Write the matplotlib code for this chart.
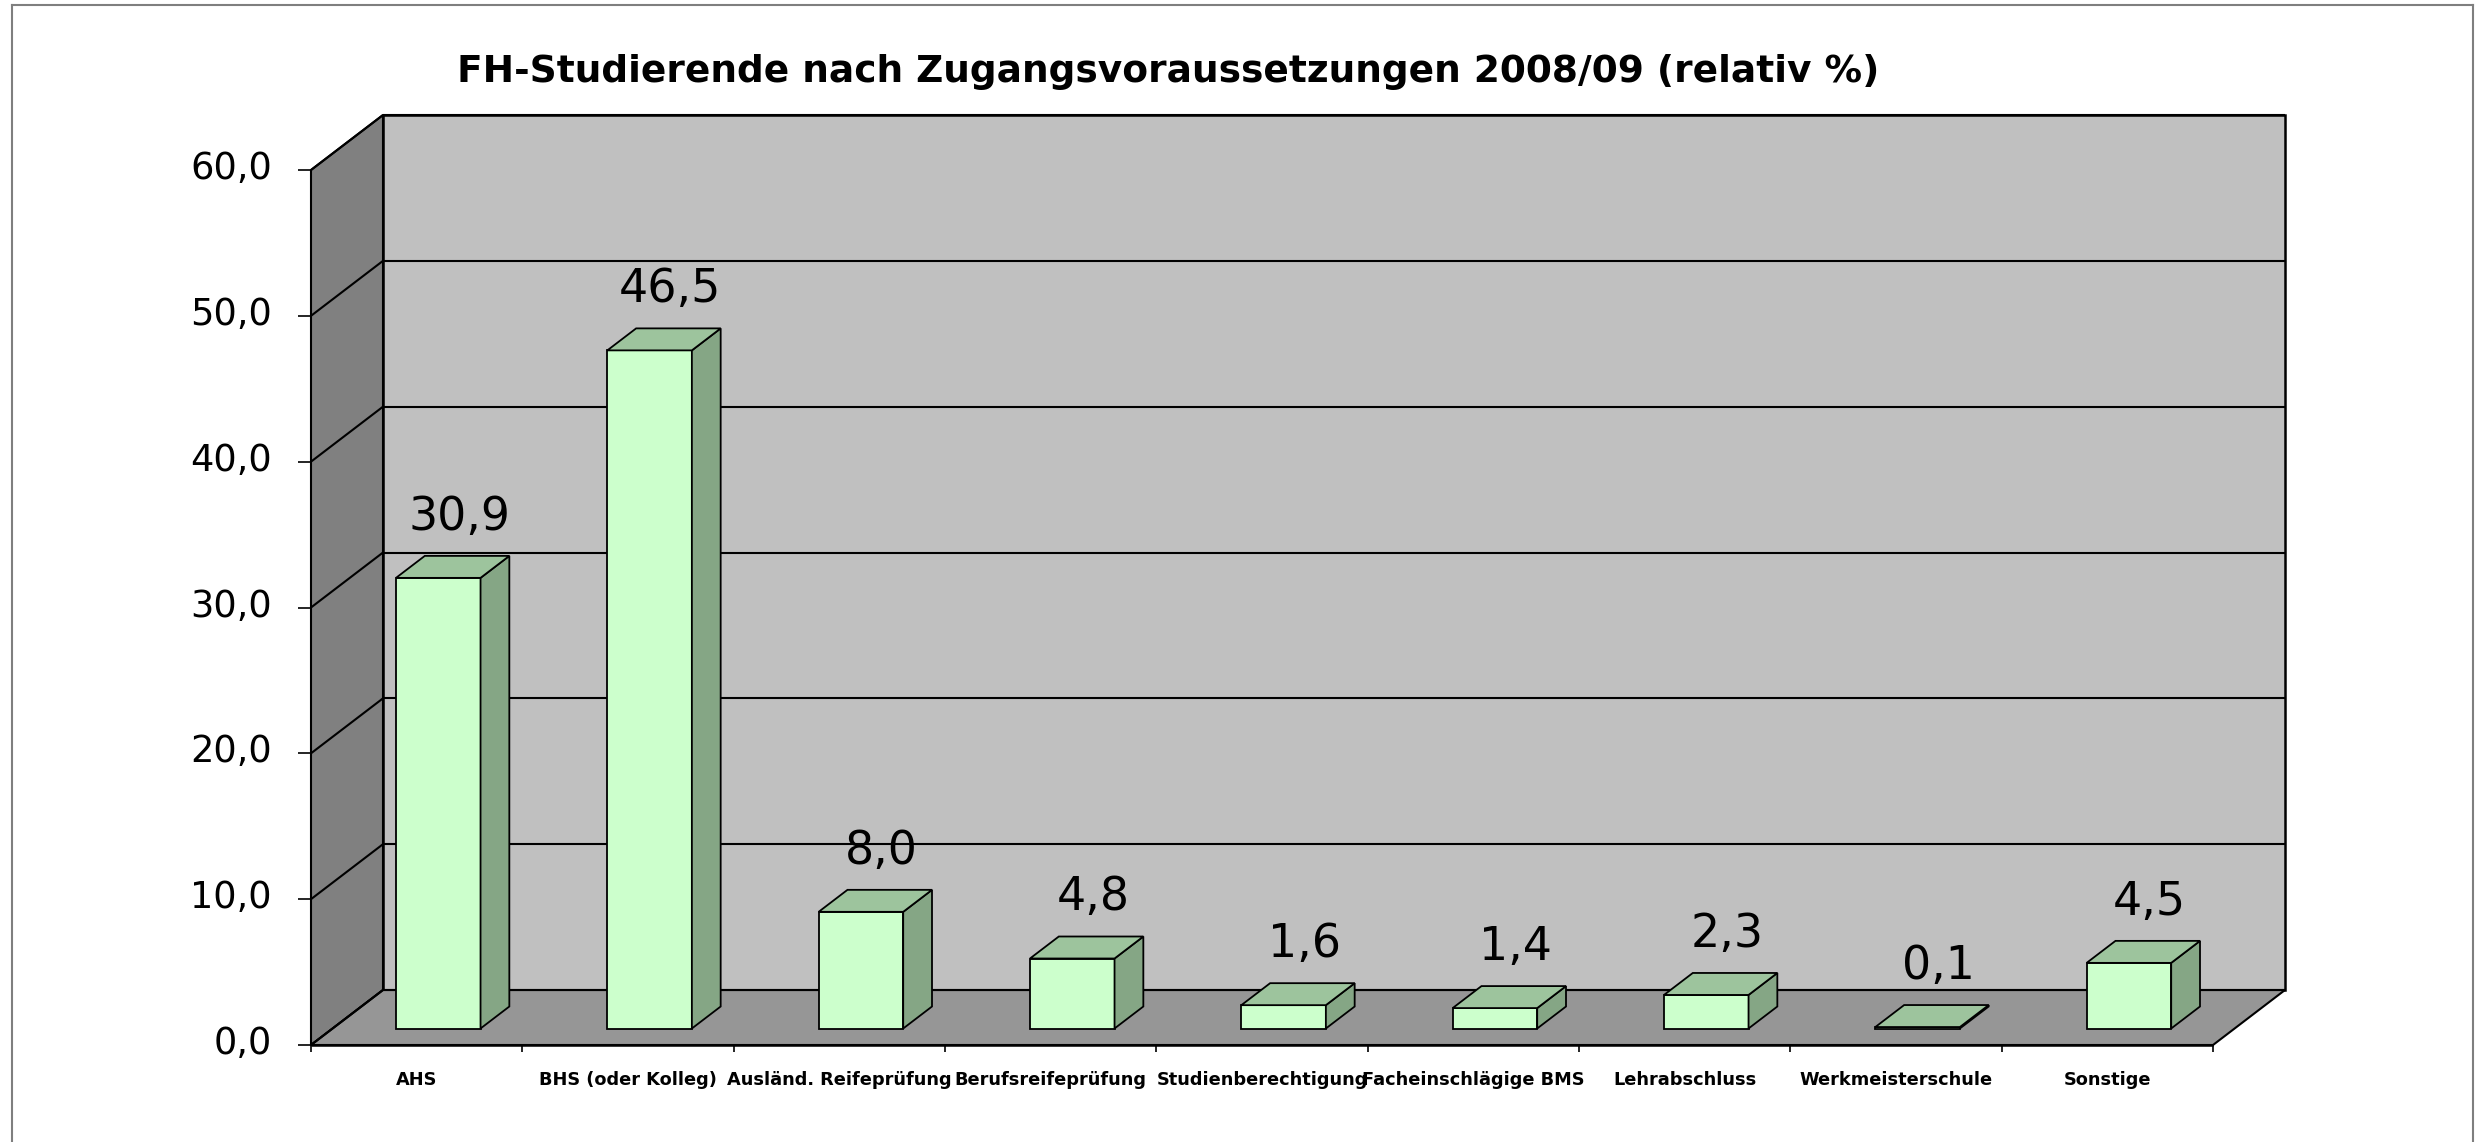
import matplotlib
matplotlib.use("Agg")
import matplotlib.pyplot as plt
from matplotlib.patches import Polygon
from matplotlib.lines import Line2D

# Daten
kategorien = ["AHS", "BHS (oder Kolleg)", "Ausländ. Reifeprüfung", "Berufsreifeprüfung",
              "Studienberechtigung", "Facheinschlägige BMS", "Lehrabschluss",
              "Werkmeisterschule", "Sonstige"]
werte = [30.9, 46.5, 8.0, 4.8, 1.6, 1.4, 2.3, 0.1, 4.5]
y_ticks = [0, 10, 20, 30, 40, 50, 60]
titel = "FH-Studierende nach Zugangsvoraussetzungen 2008/09 (relativ %)"

# Tiefenversatz (3D-Effekt) in Datenkoordinaten
DX, DY = 0.3407, 3.771

W, H = 2475, 1142


def p(x, y, d):
    return (x + d * DX, y + d * DY)


fig = plt.figure(figsize=(W / 100, H / 100), dpi=100)
ax = fig.add_axes([311 / W, 97 / H, 1902 / W, 875 / H])
ax.set_xlim(0, len(kategorien))
ax.set_ylim(0, 60)
ax.axis("off")


def flaeche(punkte, farbe, z, lw=1.3):
    ax.add_patch(Polygon([p(*q) for q in punkte], closed=True, facecolor=farbe,
                         edgecolor="black", lw=lw, clip_on=False, zorder=z))


def linie(a, b, z=3, lw=1.5, farbe="black"):
    pa, pb = p(*a), p(*b)
    ax.add_line(Line2D([pa[0], pb[0]], [pa[1], pb[1]], color=farbe, lw=lw,
                       clip_on=False, zorder=z, solid_capstyle="butt"))


n = len(kategorien)
ymax = y_ticks[-1]

# Wände und Boden
flaeche([(0, 0, 1), (n, 0, 1), (n, ymax, 1), (0, ymax, 1)], "#C0C0C0", 1, lw=1.8)
flaeche([(0, 0, 0), (0, 0, 1), (0, ymax, 1), (0, ymax, 0)], "#808080", 1, lw=1.5)
flaeche([(0, 0, 0), (n, 0, 0), (n, 0, 1), (0, 0, 1)], "#969696", 2, lw=1.5)

# Gitterlinien
for t in y_ticks:
    linie((0, t, 1), (n, t, 1), z=2)
    linie((0, t, 0), (0, t, 1), z=2)
    # Teilstriche + Beschriftung
    linie((-0.0615, t, 0), (0, t, 0), z=3, lw=1.2)
    ax.text(-0.185, t + 0.1, f"{t:.1f}".replace(".", ","), ha="right", va="center",
            fontsize=26.5, family="DejaVu Sans", clip_on=False)

for i in range(n + 1):
    linie((i, 0, 0), (i, -0.5, 0), z=3, lw=1.2)
linie((0, 0, 0), (n, 0, 0), z=3, lw=1.8)

# Balken
for i, (k, v) in enumerate(zip(kategorien, werte)):
    x0, x1 = i + 0.3, i + 0.7
    d0, d1 = 0.3, 0.7
    flaeche([(x0, 0, d0), (x1, 0, d0), (x1, v, d0), (x0, v, d0)], "#CCFFCC", 5)
    flaeche([(x1, 0, d0), (x1, 0, d1), (x1, v, d1), (x1, v, d0)], "#85A685", 5)
    flaeche([(x0, v, d0), (x1, v, d0), (x1, v, d1), (x0, v, d1)], "#9DC49D", 5)
    lx, ly = p(i + 0.5, v + 1.8, d1)
    ax.text(i + 0.53 + 0.5 * DX, ly, f"{v:.1f}".replace(".", ","), ha="center",
            va="baseline", fontsize=33, family="DejaVu Sans", zorder=6, clip_on=False)
    ax.text(i + 0.5, -2.4, k, ha="center", va="center", fontsize=12.8,
            fontweight="bold", family="DejaVu Sans", clip_on=False)

# Titel
fig.text(1168 / W, 1 - 82 / H, titel, ha="center", va="baseline", fontsize=27,
         fontweight="bold", family="DejaVu Sans")

# Rahmen
for xs, ys in [([12, 12], [0, H - 5]), ([12, 2473], [H - 5, H - 5]), ([2473, 2473], [0, H - 5])]:
    fig.add_artist(Line2D([x / W for x in xs], [y / H for y in ys], color="#7F7F7F",
                          lw=1.5, transform=fig.transFigure))

fig.savefig("out.png", dpi=100, facecolor="white")
